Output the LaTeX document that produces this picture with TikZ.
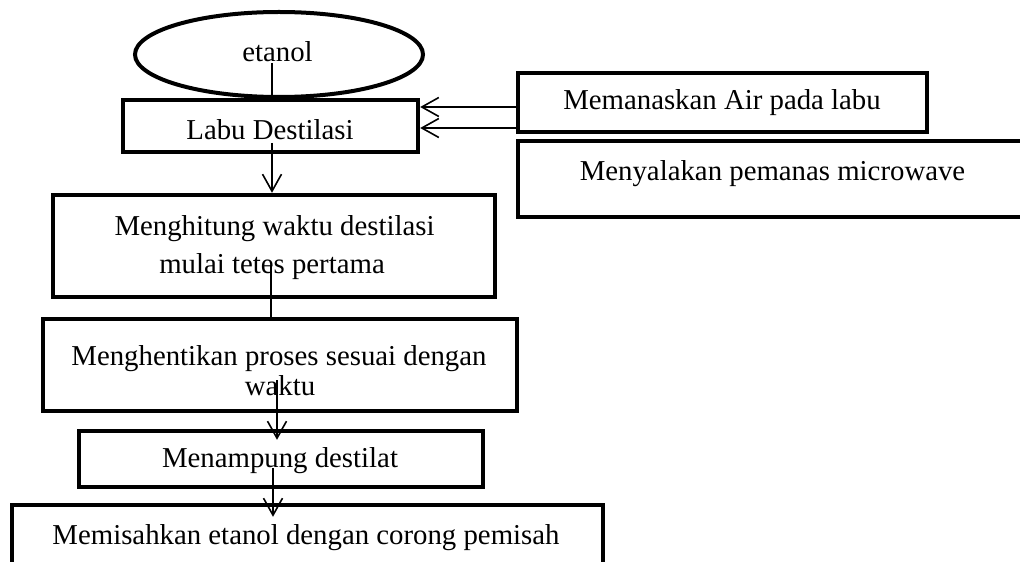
\documentclass[tikz,border=0pt]{standalone}
\usepackage{fontspec}
\setmainfont{Liberation Serif}
\usetikzlibrary{arrows.meta,shapes.geometric,fit,calc}
\tikzset{
  boxnode/.style={draw, line width=2.2pt, inner sep=0pt, rectangle},
  ovalnode/.style={draw, ellipse, line width=2pt, inner sep=0pt},
  txt/.style={inner sep=0pt, anchor=base, font=\fontsize{14.4}{17}\selectfont},
  link/.style={line width=0.8pt},
  arr/.style={link, -{Straight Barb[length=8.5pt,width=9.5pt]}},
}
\begin{document}
\begin{tikzpicture}[x=0.5pt,y=-0.5pt]
\path[use as bounding box] (0,0) rectangle (1020,561);
\fill[white] (0,0) rectangle (1020,561);
\clip (0,0) rectangle (1020,561);
% shapes
\node[ovalnode, minimum width=144pt, minimum height=42.5pt] (src) at (279,54.5) {};
\node[txt] (srct) at (277.5,62) {etanol};
\node[boxnode, fit={(123,100) (418,152)}] (labu) {};
\node[txt] (labut) at (270,140) {Labu Destilasi};
\node[boxnode, fit={(518,73) (927,132)}] (mem) {};
\node[txt] (memt) at (722,110) {Memanaskan Air pada labu};
\node[boxnode, fit={(518,141) (1030,217)}] (nyala) {};
\node[txt] (nyalat) at (772.5,181) {Menyalakan pemanas microwave};
\node[boxnode, fit={(53,195) (495,297)}] (hitung) {};
\node[txt] (hitungta) at (274.5,235) {Menghitung waktu destilasi};
\node[txt] (hitungtb) at (272,273) {mulai tetes pertama};
\node[boxnode, fit={(43,319) (517,411)}] (henti) {};
\node[txt] (hentita) at (279,365) {Menghentikan proses sesuai dengan};
\node[txt] (hentitb) at (280,395) {waktu};
\node[boxnode, fit={(79,431) (483,487)}] (tampung) {};
\node[txt] (tampungt) at (280,467) {Menampung destilat};
\node[boxnode, fit={(12,505) (603,590)}] (pisah) {};
\node[txt] (pisaht) at (306,544) {Memisahkan etanol dengan corong pemisah};
% connectors
\coordinate (s1) at (272,63);
\draw[link] (s1) -- (s1 |- labu.north);
\coordinate (s2) at (272,143);
\draw[arr] (s2) -- (s2 |- hitung.north);
\coordinate (s3) at (271,265);
\draw[link] (s3) -- (s3 |- henti.north);
\coordinate (s4) at (277,380);
\coordinate (e4) at ($(s4 |- tampung.north)+(0,11)$);
\draw[arr] (s4) -- (e4);
\coordinate (s5) at (273,468);
\coordinate (e5) at ($(s5 |- pisah.north)+(0,14)$);
\draw[arr] (s5) -- (e5);
\coordinate (h1) at (0,107);
\coordinate (h2) at (0,128);
\draw[arr] (mem.west |- h1) -- (labu.east |- h1);
\draw[arr] (mem.west |- h2) -- (labu.east |- h2);
\end{tikzpicture}
\end{document}
